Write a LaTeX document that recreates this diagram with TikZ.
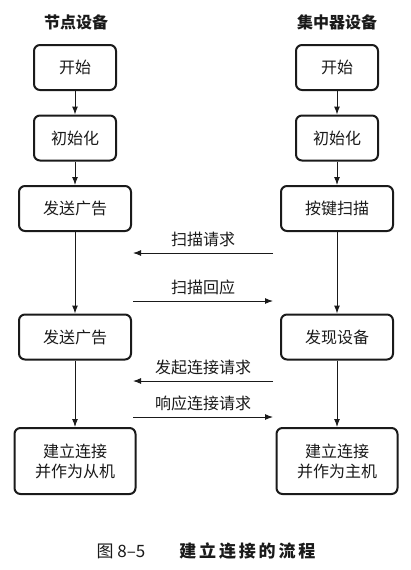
\documentclass[tikz,border=0pt]{standalone}
\usepackage{fontspec}
\usepackage{xcolor}
\usepackage{tikz}
\usetikzlibrary{arrows.meta}
\newfontfamily\cjk{Noto Sans CJK SC}
\definecolor{inkmain}{HTML}{1A1A1A}
\tikzset{
  every node/.append style={font=\cjk\fontsize{16}{20}\selectfont,text=inkmain},
  stepbox/.style={draw=inkmain,line width=2pt,rounded corners=6pt,
    minimum width=82pt,minimum height=45pt,align=center},
  widebox/.style={stepbox,minimum width=112pt},
  endbox/.style={stepbox,minimum width=121pt,minimum height=66pt},
  flow/.style={-{Latex[length=8pt,width=6pt]},draw=inkmain,line width=1pt},
  coltitle/.style={font=\cjk\bfseries\fontsize{16}{20}\selectfont},
}

\begin{document}
\begin{tikzpicture}[x=1pt,y=-1pt]
  \useasboundingbox[fill=white] (0,0) rectangle (411,570);
  % node device
  \node[coltitle] (ltitle) at (76,22) {节点设备};
  \node[stepbox] (lstart) at (75,67.5) {开始};
  \node[stepbox] (linit) at (75,138) {初始化};
  \node[widebox] (ladv1) at (75,208.5) {发送广告};
  \node[widebox] (ladv2) at (75,337) {发送广告};
  \node[endbox] (lconn) at (75,461) {建立连接\\并作为从机};
  % hub device
  \node[coltitle] (rtitle) at (337,22) {集中器设备};
  \node[stepbox] (rstart) at (337,67.5) {开始};
  \node[stepbox] (rinit) at (337,138) {初始化};
  \node[widebox] (rscan) at (337,208.5) {按键扫描};
  \node[widebox] (rfind) at (337,337) {发现设备};
  \node[endbox] (rconn) at (337,461) {建立连接\\并作为主机};
  % flows
  \draw[flow] (lstart) -- (linit);
  \draw[flow] (linit) -- (ladv1);
  \draw[flow] (ladv1) -- (ladv2);
  \draw[flow] (ladv2) -- (lconn);
  \draw[flow] (rstart) -- (rinit);
  \draw[flow] (rinit) -- (rscan);
  \draw[flow] (rscan) -- (rfind);
  \draw[flow] (rfind) -- (rconn);
  % messages
  \coordinate (ma) at (133,253);
  \coordinate (mb) at (273,253);
  \coordinate (mc) at (133,301);
  \coordinate (md) at (273,301);
  \coordinate (me) at (133,381);
  \coordinate (mf) at (273,381);
  \coordinate (mg) at (133,417);
  \coordinate (mh) at (273,417);
  \draw[flow] (mb) -- node[above=2pt] (lreq) {扫描请求} (ma);
  \draw[flow] (mc) -- node[above=2pt] (lrsp) {扫描回应} (md);
  \draw[flow] (mf) -- node[above=2pt] (lcreq) {发起连接请求} (me);
  \draw[flow] (mg) -- node[above=2pt] (lcrsp) {响应连接请求} (mh);
  \node[font=\cjk\fontsize{17}{20}\selectfont] (cap) at (206,551)
    {图 8–5\hspace{2em}{\bfseries 建\,立\,连\,接\,的\,流\,程}};
\end{tikzpicture}
\end{document}
